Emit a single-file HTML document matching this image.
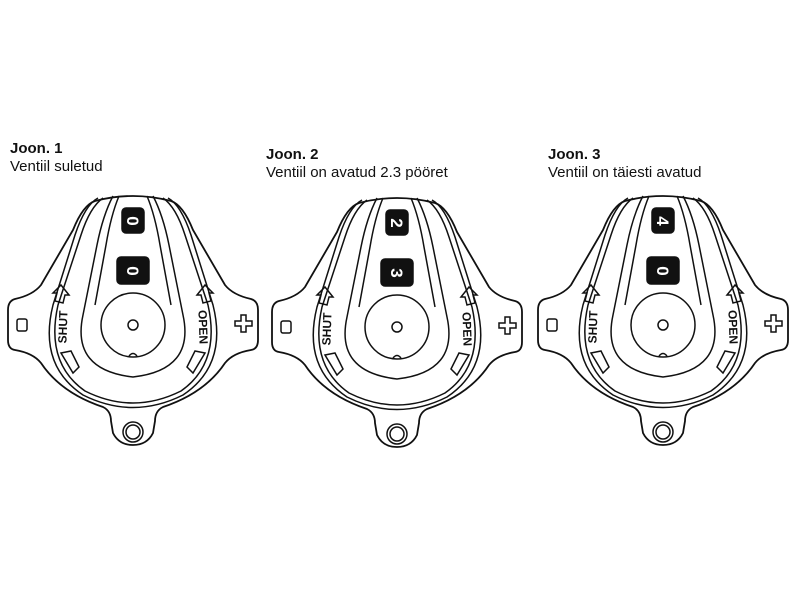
<!DOCTYPE html>
<html><head><meta charset="utf-8"><style>
body{margin:0;background:#fff;width:800px;height:600px;overflow:hidden;font-family:"Liberation Sans",Arial,sans-serif}
.t{position:absolute;font-size:15px;color:#111;line-height:18px}
.t b{font-size:15px}
</style></head><body>
<div class="t" style="left:10px;top:140px"><b>Joon. 1</b><br>Ventiil suletud</div>
<div class="t" style="left:266px;top:146px"><b>Joon. 2</b><br>Ventiil on avatud 2.3 pööret</div>
<div class="t" style="left:548px;top:146px"><b>Joon. 3</b><br>Ventiil on täiesti avatud</div>
<svg width="800" height="600" style="position:absolute;left:0;top:0" fill="none" stroke="#111" stroke-width="1.5">
<defs>
<g id="dev">
<path d="M-38,-124 Q0,-134 38,-124 Q50,-120 60,-95 L92,-40 Q100,-30 118,-26 Q125,-24 125,-15 L125,15 Q125,24 118,25 Q100,28 92,38 Q72,68 30,82 Q22,86 22,96 L20,108 Q14,120 0,120 Q-14,120 -20,108 L-22,96 Q-22,86 -30,82 Q-72,68 -92,38 Q-100,28 -118,25 Q-125,24 -125,15 L-125,-15 Q-125,-24 -118,-26 Q-100,-30 -92,-40 L-60,-95 Q-50,-120 -38,-124 Z" stroke-width="1.8"/>
<path d="M-35,-127 Q-48,-120 -58,-90 L-80,-20 Q-95,40 -50,70 Q0,95 50,70 Q95,40 80,-20 L58,-90 Q48,-120 35,-127"/>
<path d="M-30,-127 Q-43,-118 -52,-90 L-75,-20 Q-88,38 -48,66 Q0,90 48,66 Q88,38 75,-20 L52,-90 Q43,-118 30,-127"/>
<path d="M-20,-129 Q-30,-110 -36,-80 L-50,-10 Q-62,45 0,52 Q62,45 50,-10 L36,-80 Q30,-110 20,-129"/>
<path d="M-14,-129 Q-22,-110 -27,-80 L-38,-20"/>
<path d="M14,-129 Q22,-110 27,-80 L38,-20"/>
<circle r="32"/>
<circle r="5"/>
<path d="M-4,31 Q0,26 4,31"/>
<circle cy="107" r="10"/><circle cy="107" r="7"/>
<rect x="-116" y="-6" width="10" height="12" rx="2"/>
<path d="M104,-6 h6 v-6 h5 v6 h6 v5 h-6 v6 h-5 v-6 h-6 z" transform="translate(-2,2)"/>
<path d="M-64,-30 l-8,-10 l-8,8 l4,0 l-2,8 l8,2 l2,-8 z"/>
<path d="M64,-30 l8,-10 l8,8 l-4,0 l2,8 l-8,2 l-2,-8 z"/>
<path d="M-72,28 l10,-2 l8,16 l-6,6 z"/>
<path d="M72,28 l-10,-2 l-8,16 l6,6 z"/>
<text x="0" y="4" font-family="Liberation Sans" font-weight="bold" font-size="12" fill="#111" stroke="none" transform="translate(-70,2) rotate(-88)" text-anchor="middle">SHUT</text>
<text x="0" y="4" font-family="Liberation Sans" font-weight="bold" font-size="12" fill="#111" stroke="none" transform="translate(70,2) rotate(88)" text-anchor="middle">OPEN</text>
<rect x="-11" y="-117" width="22" height="25" rx="4" fill="#111"/>
<rect x="-16" y="-68" width="32" height="27" rx="4" fill="#111"/>
</g>
</defs>
<use href="#dev" x="133" y="325"/>
<use href="#dev" x="397" y="327"/>
<use href="#dev" x="663" y="325"/>
<g font-family="Liberation Sans" font-weight="bold" fill="#fff" stroke="none" font-size="17" text-anchor="middle">
<text transform="translate(133,221) rotate(90)" y="6">0</text>
<text transform="translate(133,271) rotate(90)" y="6">0</text>
<text transform="translate(397,223) rotate(90)" y="6">2</text>
<text transform="translate(397,273) rotate(90)" y="6">3</text>
<text transform="translate(663,221) rotate(90)" y="6">4</text>
<text transform="translate(663,271) rotate(90)" y="6">0</text>
</g>
</svg>
</body></html>
